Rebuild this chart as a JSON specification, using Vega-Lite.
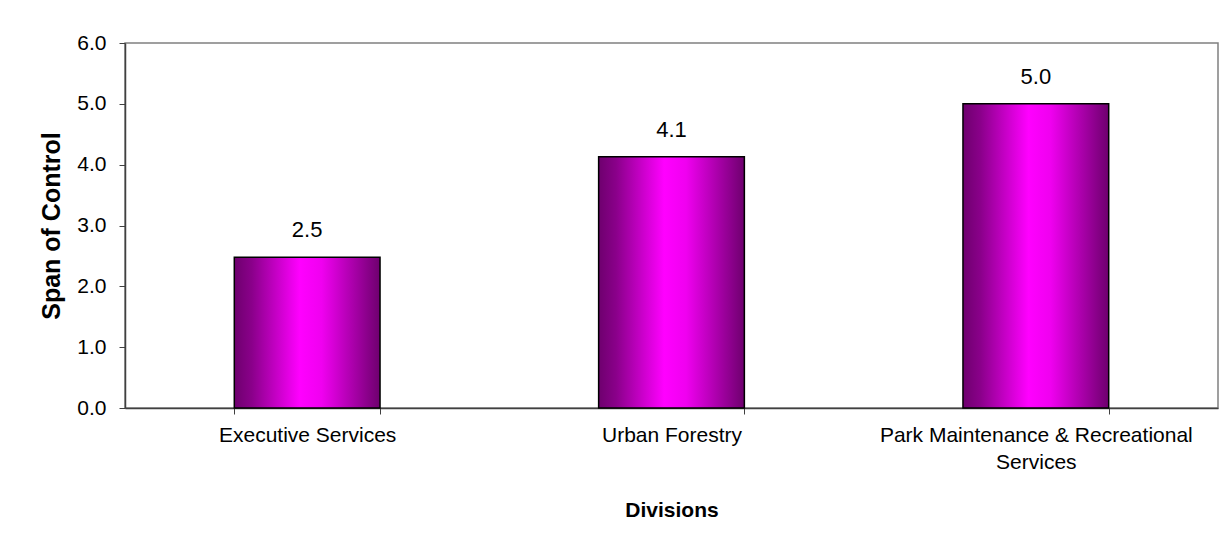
{
  "$schema": "https://vega.github.io/schema/vega-lite/v6.json",
  "autosize": {"type": "none"},
  "width": 1093,
  "height": 365,
  "padding": {"left": 125, "top": 43, "right": 12, "bottom": 142},
  "background": "white",
  "config": {
    "view": {"stroke": "#808080", "strokeWidth": 1.5},
    "font": "Liberation Sans"
  },
  "data": {
    "values": [
      {"division": "Executive Services", "span": 2.48},
      {"division": "Urban Forestry", "span": 4.13},
      {"division": "Park Maintenance & Recreational Services", "span": 5.0}
    ]
  },
  "encoding": {
    "x": {
      "field": "division",
      "type": "nominal",
      "sort": null,
      "scale": {"paddingInner": 0.6, "paddingOuter": 0.3},
      "axis": {
        "title": "Divisions",
        "titleFont": "Liberation Sans",
        "titleFontSize": 21,
        "titleFontWeight": "bold",
        "titleColor": "black",
        "titlePadding": 27,
        "labelAngle": 0,
        "labelFont": "Liberation Sans",
        "labelFontSize": 21,
        "labelColor": "black",
        "labelPadding": 10,
        "labelLineHeight": 27,
        "labelExpr": "datum.value == 'Park Maintenance & Recreational Services' ? ['Park Maintenance & Recreational', 'Services'] : datum.value",
        "tickBand": "extent",
        "tickSize": 6,
        "tickColor": "#404040",
        "domainColor": "#404040",
        "domainWidth": 1.5,
        "labelLimit": 400
      }
    },
    "y": {
      "field": "span",
      "type": "quantitative",
      "scale": {"domain": [0, 6], "nice": false},
      "axis": {
        "title": "Span of Control",
        "titleFont": "Liberation Sans",
        "titleFontSize": 25,
        "titleFontWeight": "bold",
        "titleColor": "black",
        "titlePadding": 12,
        "values": [0, 1, 2, 3, 4, 5, 6],
        "format": ".1f",
        "labelFont": "Liberation Sans",
        "labelFontSize": 21,
        "labelColor": "black",
        "labelPadding": 13,
        "tickSize": 6,
        "tickColor": "#404040",
        "domainColor": "#404040",
        "domainWidth": 1.5,
        "grid": false
      }
    }
  },
  "layer": [
    {
      "mark": {
        "type": "bar",
        "stroke": "black",
        "strokeWidth": 1.5,
        "color": {
          "gradient": "linear",
          "x1": 0, "y1": 0, "x2": 1, "y2": 0,
          "stops": [
            {"offset": 0, "color": "#6e006e"},
            {"offset": 0.12, "color": "#8a008a"},
            {"offset": 0.45, "color": "#ff00ff"},
            {"offset": 0.6, "color": "#f000f0"},
            {"offset": 1, "color": "#6e006e"}
          ]
        }
      }
    },
    {
      "mark": {
        "type": "text",
        "baseline": "middle",
        "dy": -27,
        "fontSize": 22,
        "font": "Liberation Sans",
        "color": "black"
      },
      "encoding": {
        "text": {"field": "span", "type": "quantitative", "format": ".1f"}
      }
    }
  ]
}
